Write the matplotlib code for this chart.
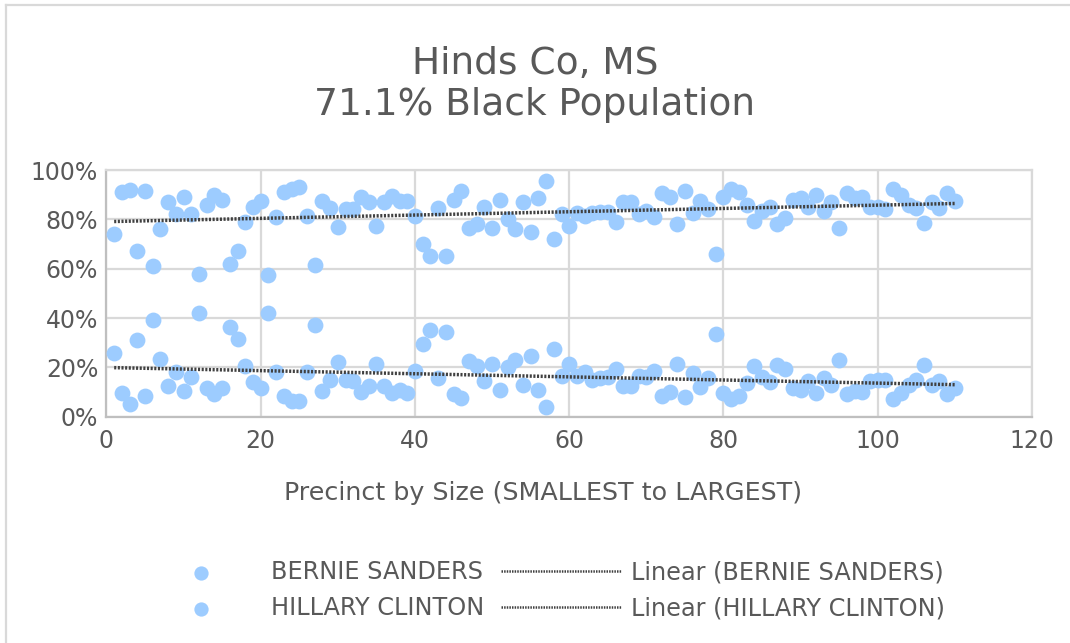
import numpy as np
import matplotlib.pyplot as plt
from matplotlib.lines import Line2D

# Precinct index (smallest to largest)
precinct = np.arange(1, 111)

# Vote share per precinct, percent
clinton = [74, 91, 92, 67, 91.5, 61, 76, 87, 82, 89,
           82, 58, 86, 90, 88, 62, 67, 79, 85, 87.5,
           57.5, 81, 91, 92.5, 93, 81.5, 61.5, 87.5, 84.5, 77,
           84, 84, 89, 87, 77.5, 87, 89.5, 87.5, 87.5, 81.5,
           70, 65, 84.5, 65, 88, 91.5, 76.5, 78, 85, 76.5,
           88, 80, 76, 87, 75, 88.5, 95.5, 72, 82, 77.5,
           82.5, 81.5, 82.5, 83, 83, 79, 87, 87, 82, 83.5,
           81, 90.5, 89, 78, 91.5, 82.5, 87.5, 84, 66, 89,
           92.5, 91, 86, 79.5, 83.5, 85, 78, 80.5, 88, 88.5,
           85, 90, 83.5, 87, 76.5, 90.5, 88.5, 89, 85, 85,
           84, 92.5, 90, 86, 84.5, 78.5, 87, 84.5, 90.5, 87.5]

sanders = [26, 9.5, 5, 31, 8.5, 39, 23.5, 12.5, 18, 10.5,
           16, 42, 11.5, 9, 11.5, 36.5, 31.5, 20.5, 14, 11.5,
           42, 18, 8.5, 6.5, 6.5, 18, 37, 10.5, 15, 22,
           15, 14.5, 10, 12.5, 21.5, 12.5, 9.5, 11, 9.5, 18.5,
           29.5, 35, 15.5, 34.5, 9, 7.5, 22.5, 20.5, 14.5, 21.5,
           11, 20, 23, 13, 24.5, 11, 4, 27.5, 16.5, 21.5,
           16.5, 18, 15, 15.5, 16, 19.5, 12.5, 12.5, 16.5, 16,
           18.5, 8.5, 10, 21.5, 8, 17.5, 12, 15.5, 33.5, 9.5,
           7, 8.5, 13.5, 20.5, 16, 14, 21, 19.5, 11.5, 11,
           14.5, 9.5, 15.5, 13, 23, 9, 10.5, 10, 14.5, 15,
           15, 7, 9.5, 13, 15, 21, 13, 14.5, 9, 11.5]

series_names = ["BERNIE SANDERS", "HILLARY CLINTON"]

dot_color = '#9DCCFF'
text_color = '#595959'
grid_color = '#D9D9D9'
trend_color = '#404040'

fig = plt.figure(figsize=(10.7, 6.43), dpi=100)
ax = fig.add_axes([0.0995, 0.352, 0.865, 0.3836])

ax.set_xlim(0, 120)
ax.set_ylim(0, 100)
ax.set_xticks(np.arange(0, 121, 20))
ax.set_yticks(np.arange(0, 101, 20))
ax.set_yticklabels([f"{v}%" for v in range(0, 101, 20)])
ax.grid(True, color=grid_color, lw=1.6)
ax.set_axisbelow(True)
for side in ['left', 'bottom']:
    ax.spines[side].set_color('#BFBFBF')
    ax.spines[side].set_linewidth(1.6)
for side in ['top', 'right']:
    ax.spines[side].set_color(grid_color)
    ax.spines[side].set_linewidth(1.6)
ax.tick_params(length=0, labelsize=17, labelcolor=text_color)
ax.tick_params(axis='x', pad=9)
ax.tick_params(axis='y', pad=6)

sc_b = ax.scatter(precinct, sanders, s=130, color=dot_color, lw=0, zorder=3)
sc_h = ax.scatter(precinct, clinton, s=130, color=dot_color, lw=0, zorder=3)

# linear trendlines like Excel
trend_style = dict(color=trend_color, lw=2.5, dashes=(0.6, 0.45), zorder=4)
xfit = np.array([precinct[0], precinct[-1]])
for vals in (sanders, clinton):
    m, b = np.polyfit(precinct, vals, 1)
    ax.plot(xfit, m * xfit + b, **trend_style)

fig.text(0.5, 0.8686, "Hinds Co, MS\n71.1% Black Population", ha='center', va='center',
         fontsize=27, color=text_color, linespacing=1.2)
fig.text(0.5075, 0.2333, "Precinct by Size (SMALLEST to LARGEST)", ha='center', va='center',
         fontsize=18.3, color=text_color)

# chart area border (only top and left edges visible)
fig.add_artist(Line2D([0.0056, 0.0056], [0, 0.9925], color=grid_color, lw=1.6, transform=fig.transFigure))
fig.add_artist(Line2D([0.0056, 1], [0.9925, 0.9925], color=grid_color, lw=1.6, transform=fig.transFigure))

lin_b = Line2D([], [], color=trend_color, lw=1.8, dashes=(0.6, 0.45))
lin_h = Line2D([], [], color=trend_color, lw=1.8, dashes=(0.6, 0.45))
leg = fig.legend([sc_b, sc_h, lin_b, lin_h],
                 series_names + [f"Linear ({n})" for n in series_names],
                 ncol=2, loc='center', bbox_to_anchor=(0.5076, 0.0824), frameon=False,
                 fontsize=17.3, handlelength=5.0, handletextpad=0.42, columnspacing=0.7,
                 labelspacing=0.5, markerscale=0.9, scatterpoints=1)
for t in leg.get_texts():
    t.set_color(text_color)

fig.savefig("out.png", dpi=100)
